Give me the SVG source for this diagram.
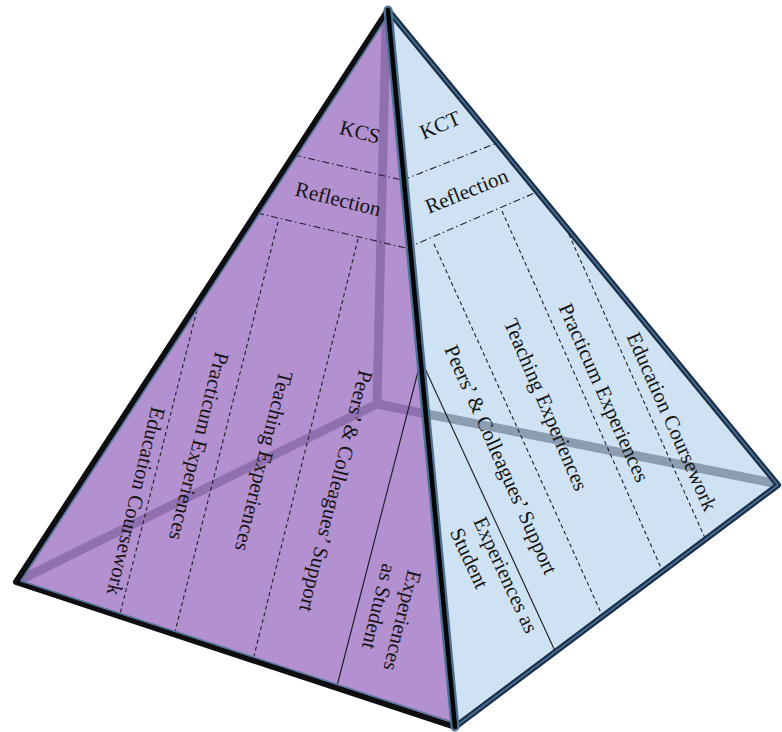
<svg xmlns="http://www.w3.org/2000/svg" width="782" height="732" viewBox="0 0 782 732">
<style>
.t{font-family:"Liberation Serif","Times New Roman",serif;font-size:21px;fill:#151515;text-anchor:middle}
.ts{font-family:"Liberation Serif","Times New Roman",serif;font-size:21px;fill:#151515;text-anchor:start}
.dd{stroke:#2a2233;stroke-width:1.1;fill:none;stroke-dasharray:7 3 1.5 3}
.ds{stroke:#1f1f2a;stroke-width:1.1;fill:none;stroke-dasharray:4 3}
.sl{stroke:#1a1a22;stroke-width:1.1;fill:none}
</style>
<defs>
<clipPath id="cl"><polygon points="388,10 16,582 455,727"/></clipPath>
<clipPath id="cr"><polygon points="388,10 455,727 778,485"/></clipPath>
</defs>
<rect width="782" height="732" fill="#ffffff"/>
<g id="face-left">
<polygon points="388,10 16,582 455,727" fill="#b390cf"/>
<g clip-path="url(#cl)" stroke="#9170af" stroke-width="9" fill="none" stroke-linecap="round">
<path d="M386,24 L377,404 L18,581"/>
<path d="M377,404 L778,484"/>
</g>
</g>
<g id="face-right">
<polygon points="388,10 455,727 778,485" fill="#cfe2f3"/>
<g clip-path="url(#cr)" stroke="#8a9db1" stroke-width="9" fill="none">
<path d="M377,404 L778,484"/>
</g>
</g>
<g id="connectors">
<line class="dd" x1="294" y1="155" x2="402" y2="180"/>
<line class="dd" x1="257" y1="213" x2="406" y2="248"/>
<line class="dd" x1="403" y1="180" x2="497" y2="143"/>
<line class="dd" x1="407" y1="248" x2="537" y2="192"/>
<line class="ds" x1="197" y1="310" x2="120" y2="614"/>
<line class="ds" x1="278" y1="222" x2="175" y2="632"/>
<line class="ds" x1="358" y1="239" x2="254" y2="656"/>
<line class="sl" x1="421" y1="360" x2="337" y2="686"/>
<line class="sl" x1="422" y1="362" x2="555" y2="651"/>
<line class="ds" x1="434" y1="244" x2="602" y2="615"/>
<line class="ds" x1="502" y1="211" x2="662" y2="570"/>
<line class="ds" x1="566" y1="228" x2="705" y2="538"/>
</g>
<g id="labels-left">
<g id="kcs" transform="translate(360,132) rotate(14)"><text class="t" x="0" y="7">KCS</text></g>
<g id="refl-left" transform="translate(338,200) rotate(14)"><text class="t" x="0" y="6">Reflection</text></g>
<g id="edu-left" transform="translate(135,501) rotate(103.5)"><text class="t" x="0" y="6">Education Coursework</text></g>
<g id="prac-left" transform="translate(198,446) rotate(104)"><text class="t" x="0" y="6">Practicum Experiences</text></g>
<g id="teach-left" transform="translate(263,461) rotate(104)"><text class="t" x="0" y="6">Teaching Experiences</text></g>
<g id="peers-left" transform="translate(335,491) rotate(104)"><text class="t" x="0" y="6">Peers’ &amp; Colleagues’ Support</text></g>
<g id="exp-left" transform="translate(408,569) rotate(104)"><text class="ts" x="0" y="0"><tspan x="0" y="0">Experiences</tspan><tspan x="0" y="26">as Student</tspan></text></g>
</g>
<g id="labels-right">
<g id="kct" transform="translate(440,125) rotate(-23)"><text class="t" x="0" y="7">KCT</text></g>
<g id="refl-right" transform="translate(467,192) rotate(-22)"><text class="t" x="0" y="6">Reflection</text></g>
<g id="peers-right" transform="translate(500,460) rotate(66)"><text class="t" x="0" y="6">Peers’ &amp; Colleagues’ Support</text></g>
<g id="teach-right" transform="translate(545,405) rotate(67)"><text class="t" x="0" y="6">Teaching Experiences</text></g>
<g id="prac-right" transform="translate(603,393) rotate(66)"><text class="t" x="0" y="6">Practicum Experiences</text></g>
<g id="edu-right" transform="translate(671,422) rotate(66)"><text class="t" x="0" y="6">Education Coursework</text></g>
<g id="exp-right" transform="translate(473,521) rotate(65)"><text class="ts" x="0" y="0"><tspan x="0" y="0">Experiences as</tspan><tspan x="0" y="26">Student</tspan></text></g>
</g>
<g id="edges" fill="none" stroke-linejoin="round" stroke-linecap="round">
<path d="M388,10 L16,582 L455,727" stroke="#0d0d12" stroke-width="6"/>
<path d="M389,14 L21,581 L455,723" stroke="#55789c" stroke-width="1.6"/>
<path d="M388,10 L778,485 L455,727" stroke="#1b3048" stroke-width="6"/>
<path d="M388,10 L778,485 L455,727" stroke="#4c7194" stroke-width="1.6"/>
<path d="M388,10 L455,727" stroke="#4c7194" stroke-width="9"/>
<path d="M388,10 L455,727" stroke="#050505" stroke-width="4.5"/>
</g>
</svg>
